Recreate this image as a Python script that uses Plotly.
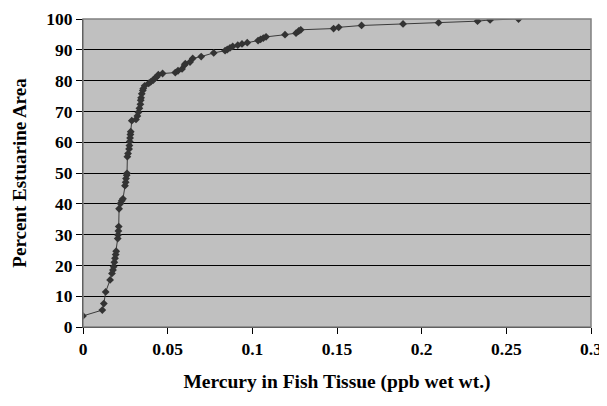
import plotly.graph_objects as go

# mercury concentration (ppb wet wt.) vs cumulative percent of estuarine area
mercury = [0, 0.0114, 0.0123, 0.0134, 0.016, 0.0171, 0.0177, 0.0181, 0.0185, 0.0189,
           0.0193, 0.0196, 0.0205, 0.0207, 0.0209, 0.0211, 0.0213, 0.0221, 0.0229, 0.0236,
           0.0248, 0.0252, 0.0254, 0.0258, 0.026, 0.0262, 0.0266, 0.0272, 0.0274, 0.0276,
           0.0278, 0.028, 0.0282, 0.0288, 0.0313, 0.0321, 0.0327, 0.0333, 0.0339, 0.0341,
           0.0343, 0.0347, 0.0353, 0.0356, 0.0364, 0.0388, 0.040, 0.0415, 0.0425, 0.0435,
           0.0445, 0.047, 0.0545, 0.0561, 0.0585, 0.060, 0.0604, 0.0632, 0.0648, 0.0698,
           0.0772, 0.0839, 0.0852, 0.0868, 0.0884, 0.0914, 0.0939, 0.0970, 0.1034, 0.1049,
           0.1065, 0.1081, 0.1193, 0.1258, 0.1274, 0.1286, 0.1480, 0.1510, 0.1645, 0.1890,
           0.2100, 0.2330, 0.2404, 0.2572]
pct_area = [3.6, 5.5, 7.6, 11.4, 15.3, 17.4, 18.5, 19.6, 21.0, 22.3,
            23.5, 24.6, 28.7, 29.9, 31.2, 32.6, 38.4, 40.1, 41.0, 41.6,
            45.9, 47.0, 48.2, 49.3, 49.9, 55.3, 56.3, 57.8, 58.9, 60.2,
            61.4, 62.5, 63.4, 67.0, 67.4, 68.5, 69.7, 71.0, 72.3, 73.6,
            74.4, 75.7, 76.8, 77.4, 78.3, 79.1, 79.6, 80.2, 80.8, 81.2,
            81.9, 82.3, 82.6, 83.2, 83.8, 85.1, 85.5, 86.0, 87.2, 87.8,
            89.0, 89.7, 90.1, 90.6, 91.1, 91.5, 91.9, 92.3, 93.0, 93.4,
            93.8, 94.2, 94.9, 95.4, 96.1, 96.5, 96.9, 97.3, 97.9, 98.4,
            98.8, 99.3, 99.7, 100]

x_ticks = [0, 0.05, 0.1, 0.15, 0.2, 0.25, 0.3]
x_labels = ['0', '0.05', '0.1', '0.15', '0.2', '0.25', '0.3']

font_family = 'Liberation Serif'

fig = go.Figure(go.Scatter(
    x=mercury, y=pct_area,
    mode='lines+markers',
    line=dict(color='#3a3a3a', width=1),
    marker=dict(symbol='diamond', size=6, color='#333333'),
    showlegend=False
))

# page body has an 8px margin, so the figure is a bit smaller than the window
fig.update_layout(
    width=599, height=390,
    margin=dict(l=75, r=16, t=11, b=71),
    paper_bgcolor='white',
    plot_bgcolor='#c0c0c0',
    font=dict(family=font_family, color='black'),
    shapes=[dict(type='rect', xref='paper', yref='paper', x0=0, y0=0, x1=1, y1=1,
                 line=dict(color='#808080', width=1.5), layer='above')]
)

fig.update_xaxes(
    range=[0, 0.3], tickvals=x_ticks, ticktext=x_labels,
    automargin=False, ticklabeloverflow='allow',
    showgrid=False, zeroline=False,
    showline=True, linecolor='black', linewidth=1,
    ticks='outside', ticklen=6, tickcolor='black',
    tickfont=dict(size=17.5, family=font_family, weight='bold'),
    title=dict(text='<b>Mercury in Fish Tissue (ppb wet wt.)</b>',
               font=dict(size=19.5, family=font_family), standoff=16)
)

fig.update_yaxes(
    range=[0, 100], dtick=10,
    automargin=False, ticklabeloverflow='allow',
    showgrid=True, gridcolor='black', gridwidth=1, zeroline=False,
    showline=True, linecolor='black', linewidth=1,
    ticks='outside', ticklen=6, tickcolor='black',
    tickfont=dict(size=17.5, family=font_family, weight='bold'),
    title=dict(text='<b>Percent Estuarine Area</b>',
               font=dict(size=19, family=font_family), standoff=14)
)

fig.write_html('out.html')
